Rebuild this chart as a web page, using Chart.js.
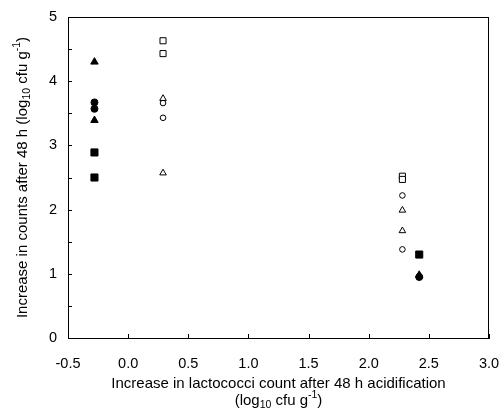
<!DOCTYPE html>
<html>
<head>
<meta charset="utf-8">
<script src="https://cdn.jsdelivr.net/npm/chart.js@4.4.0/dist/chart.umd.min.js"></script>
<style>
  html, body { margin: 0; padding: 0; background: #fff; }
  #wrap { width: 501px; height: 414px; }
</style>
</head>
<body>
<div id="wrap"><canvas id="grafica"></canvas></div>
<script>
// datos
const xTicks = [-0.5, 0.0, 0.5, 1.0, 1.5, 2.0, 2.5, 3.0];
const yTicks = [0, 1, 2, 3, 4, 5];

const trianguloLlenoX = [-0.28, -0.28, 2.42];
const trianguloLlenoY = [4.30, 3.39, 0.98];
const circuloLlenoX = [-0.28, -0.28, 2.42];
const circuloLlenoY = [3.67, 3.57, 0.95];
const cuadradoLlenoX = [-0.28, -0.28, 2.42];
const cuadradoLlenoY = [2.89, 2.50, 1.30];

const cuadradoVacioX = [0.29, 0.29, 2.28, 2.28];
const cuadradoVacioY = [4.63, 4.43, 2.52, 2.47];
const trianguloVacioX = [0.29, 0.29, 2.28, 2.28];
const trianguloVacioY = [3.73, 2.57, 1.99, 1.67];
const circuloVacioX = [0.29, 0.29, 2.28, 2.28];
const circuloVacioY = [3.66, 3.43, 2.22, 1.38];

const FUENTE = "'Liberation Sans', Arial, sans-serif";
const TAM_TITULO = 15;

function puntos(xs, ys) {
    return xs.map((x, i) => ({ x: x, y: ys[i] }));
}

function serie(xs, ys, estilo, radio, lleno) {
    return {
        data: puntos(xs, ys),
        pointStyle: estilo,
        pointRadius: radio,
        pointHoverRadius: radio,
        pointBackgroundColor: lleno ? '#000' : '#fff',
        pointBorderColor: '#000',
        pointBorderWidth: 1,
        showLine: false
    };
}

// ticks hacia adentro + marco completo
const marco = {
    id: 'marco',
    afterDraw(chart) {
        const ctx = chart.ctx;
        const a = chart.chartArea;
        const sx = chart.scales.x;
        const sy = chart.scales.y;
        ctx.save();
        ctx.strokeStyle = '#000';
        ctx.lineWidth = 1;
        ctx.beginPath();
        ctx.moveTo(a.left, a.top + 0.5);
        ctx.lineTo(a.right, a.top + 0.5);
        ctx.moveTo(a.right - 0.5, a.top);
        ctx.lineTo(a.right - 0.5, a.bottom);
        sx.ticks.forEach(t => {
            const px = Math.round(sx.getPixelForValue(t.value)) + 0.5;
            ctx.moveTo(px, a.bottom);
            ctx.lineTo(px, a.bottom - 4);
        });
        sy.ticks.forEach(t => {
            const py = Math.round(sy.getPixelForValue(t.value)) + 0.5;
            ctx.moveTo(a.left, py);
            ctx.lineTo(a.left + 4, py);
        });
        ctx.stroke();
        ctx.restore();
    }
};

// titulos con subindice y superindice
function textoRico(ctx, partes, cx, cy, size) {
    let total = 0;
    partes.forEach(p => {
        ctx.font = (p.s ? size * 0.7 : size) + 'px ' + FUENTE;
        p.w = ctx.measureText(p.t).width;
        total += p.w;
    });
    let x = cx - total / 2;
    partes.forEach(p => {
        ctx.font = (p.s ? size * 0.7 : size) + 'px ' + FUENTE;
        let dy = 0;
        if (p.s === 'sub') dy = size * 0.3;
        if (p.s === 'sup') dy = -size * 0.4;
        ctx.fillText(p.t, x, cy + dy);
        x += p.w;
    });
}

const titulos = {
    id: 'titulos',
    afterDraw(chart) {
        const ctx = chart.ctx;
        const a = chart.chartArea;
        ctx.save();
        ctx.fillStyle = '#000';
        ctx.textBaseline = 'middle';
        ctx.textAlign = 'left';
        const cx = (a.left + a.right) / 2;
        textoRico(ctx, [{ t: 'Increase in lactococci count after 48 h acidification' }], cx, 384, TAM_TITULO);
        textoRico(ctx, [
            { t: '(log' }, { t: '10', s: 'sub' }, { t: ' cfu g' }, { t: '-1', s: 'sup' }, { t: ')' }
        ], cx, 401, TAM_TITULO);
        ctx.translate(23, (a.top + a.bottom) / 2);
        ctx.rotate(-Math.PI / 2);
        textoRico(ctx, [
            { t: 'Increase in counts after 48 h (log' }, { t: '10', s: 'sub' },
            { t: ' cfu g' }, { t: '-1', s: 'sup' }, { t: ')' }
        ], 0, 0, TAM_TITULO);
        ctx.restore();
    }
};

document.addEventListener("DOMContentLoaded", function() {
    new Chart(document.getElementById("grafica"), {
        type: 'scatter',
        data: {
            datasets: [
                serie(trianguloLlenoX, trianguloLlenoY, 'triangle', 4.3, true),
                serie(circuloLlenoX, circuloLlenoY, 'circle', 3.5, true),
                serie(cuadradoLlenoX, cuadradoLlenoY, 'rect', 5, true),
                serie(cuadradoVacioX, cuadradoVacioY, 'rect', 4.3, false),
                serie(trianguloVacioX, trianguloVacioY, 'triangle', 3.8, false),
                serie(circuloVacioX, circuloVacioY, 'circle', 2.8, false)
            ]
        },
        options: {
            responsive: true,
            maintainAspectRatio: false,
            animation: false,
            layout: { padding: { left: 0, right: 12, top: 17, bottom: 0 } },
            plugins: {
                legend: { display: false },
                tooltip: { enabled: false }
            },
            scales: {
                x: {
                    type: 'linear',
                    min: -0.5,
                    max: 3.0,
                    afterBuildTicks(scale) {
                        scale.ticks = xTicks.map(v => ({ value: v }));
                    },
                    afterFit(scale) {
                        scale.height = 76;
                        scale.paddingLeft = 0;
                        scale.paddingRight = 0;
                    },
                    grid: { display: false, drawTicks: false },
                    border: { display: true, color: '#000', width: 1 },
                    ticks: {
                        color: '#000',
                        padding: 17,
                        maxRotation: 0,
                        font: { family: FUENTE, size: 14.5 },
                        callback: v => Number(v).toFixed(1)
                    }
                },
                y: {
                    type: 'linear',
                    min: 0,
                    max: 5,
                    afterBuildTicks(scale) {
                        const t = [];
                        yTicks.forEach((v, i) => {
                            t.push({ value: v });
                            if (i < yTicks.length - 1) t.push({ value: v + 0.5 });
                        });
                        scale.ticks = t;
                    },
                    afterFit(scale) {
                        scale.width = 68;
                        scale.paddingTop = 0;
                        scale.paddingBottom = 0;
                    },
                    grid: { display: false, drawTicks: false },
                    border: { display: true, color: '#000', width: 1 },
                    ticks: {
                        color: '#000',
                        padding: 11,
                        font: { family: FUENTE, size: 14.5 },
                        callback: v => (Number.isInteger(v) ? String(v) : '')
                    }
                }
            }
        },
        plugins: [marco, titulos]
    });
});
</script>
</body>
</html>
